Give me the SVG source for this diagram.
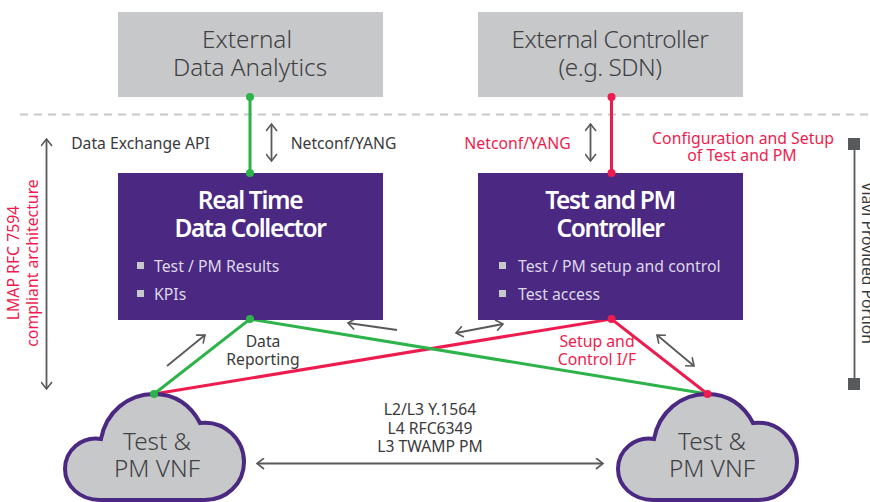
<svg xmlns="http://www.w3.org/2000/svg" width="870" height="502" viewBox="0 0 870 502">
<style>
text{font-family:"Noto Sans","Open Sans","Liberation Sans",sans-serif;text-anchor:middle}
.big{font-size:24.3px;fill:#404143;font-weight:300}
.lbl{font-size:15.7px;fill:#3a3a3c}
.red{font-size:15.8px;fill:#ee1c4e}
.ttl{font-size:24.5px;fill:#fff;font-weight:600;letter-spacing:-1.35px}
.itm{font-size:15.8px;fill:#dcd8e8;text-anchor:start}
.ar{fill:none;stroke:#58595b;stroke-width:1.8}
.g{fill:none;stroke:#2db34a;stroke-width:3}
.r{fill:none;stroke:#ee1c4e;stroke-width:3}
.gd{fill:#2db34a}.rd{fill:#ee1c4e}
.box{fill:#c7c8ca}.pur{fill:#4b2882}
.sq{fill:#c7c8ca}
.cl{fill:#c7c8ca;stroke:#4b2882;stroke-width:4}
</style>
<defs>
<marker id="a" viewBox="-8 -6 10 12" refX="0" refY="0" markerWidth="10" markerHeight="12" markerUnits="userSpaceOnUse" orient="auto-start-reverse"><path d="M-7-5.500L0 0L-7 5.500" fill="none" stroke="#58595b" stroke-width="1.6"/></marker>
<path id="cloud" d="M101 439C106 412 128 394 154 394C175 394 191 405 200 423C225 420 244 440 244 462C244 484 226 500 205 500L100 500C80 500 65 486 65 469C65 450 82 436 101 439Z"/>
</defs>
<line x1="20" y1="114.500" x2="870" y2="114.500" stroke="#c7c8ca" stroke-width="2" stroke-dasharray="8 6"/>
<g id="connectors">
<path class="g" d="M250 97V173"/>
<path class="r" d="M611.500 97V173"/>
<path class="r" d="M154 394L611.500 319L707.500 394"/>
<path class="g" d="M154 394L250 319L707.500 394"/>
<path class="ar" marker-start="url(#a)" marker-end="url(#a)" d="M271.500 124V161"/>
<path class="ar" marker-start="url(#a)" marker-end="url(#a)" d="M590.500 124V161"/>
<path class="ar" marker-start="url(#a)" marker-end="url(#a)" d="M46.500 139V389"/>
<path class="ar" marker-end="url(#a)" d="M167 366L205 335"/>
<path class="ar" marker-end="url(#a)" d="M397 330L348 323"/>
<path class="ar" marker-start="url(#a)" marker-end="url(#a)" d="M456 333L503 324"/>
<path class="ar" marker-start="url(#a)" marker-end="url(#a)" d="M657 335L694 366"/>
<path class="ar" marker-start="url(#a)" marker-end="url(#a)" d="M257 463.500H603"/>
<path class="ar" d="M854.500 144V384"/>
<rect x="848" y="138" width="12" height="12" fill="#58595b"/>
<rect x="848" y="378" width="12" height="12" fill="#58595b"/>
</g>
<g id="ext-analytics"><rect class="box" x="118" y="12" width="265" height="85"/><text class="big" x="247" y="48">External</text><text class="big" x="250" y="76">Data Analytics</text></g>
<g id="ext-controller"><rect class="box" x="478" y="12" width="265" height="85"/><text class="big" x="610" y="48" letter-spacing="-0.5">External Controller</text><text class="big" x="610" y="76" letter-spacing="-0.5">(e.g. SDN)</text></g>
<g id="collector"><rect class="pur" x="118" y="173" width="265" height="147"/>
<text class="ttl" x="250" y="209">Real Time</text><text class="ttl" x="250" y="237">Data Collector</text>
<rect class="sq" x="137" y="262" width="7" height="7"/><text class="itm" x="154" y="272">Test / PM Results</text>
<rect class="sq" x="137" y="290" width="7" height="7"/><text class="itm" x="154" y="300">KPIs</text></g>
<g id="controller"><rect class="pur" x="478" y="173" width="265" height="147"/>
<text class="ttl" x="610" y="209">Test and PM</text><text class="ttl" x="610" y="237">Controller</text>
<rect class="sq" x="499" y="262" width="7" height="7"/><text class="itm" x="518" y="272">Test / PM setup and control</text>
<rect class="sq" x="499" y="290" width="7" height="7"/><text class="itm" x="518" y="300">Test access</text></g>
<g id="vnf-left"><use href="#cloud" class="cl"/><text class="big" x="157" y="450">Test &amp;</text><text class="big" x="157" y="477">PM VNF</text></g>
<g id="vnf-right"><use href="#cloud" class="cl" x="553"/><text class="big" x="712" y="450">Test &amp;</text><text class="big" x="712" y="477">PM VNF</text></g>
<g id="dots">
<circle class="gd" cx="250" cy="97" r="4"/><circle class="gd" cx="250" cy="173" r="4"/>
<circle class="rd" cx="611.500" cy="97" r="4"/><circle class="rd" cx="611.500" cy="173" r="4"/>
<circle class="gd" cx="250" cy="319" r="4"/><circle class="rd" cx="611.500" cy="319" r="4"/>
<circle class="gd" cx="154" cy="394" r="4"/><circle class="rd" cx="707.500" cy="394" r="4"/>
</g>
<g id="labels">
<text class="lbl" x="140.500" y="149">Data Exchange API</text>
<text class="lbl" x="343.500" y="149">Netconf/YANG</text>
<text class="red" x="517.500" y="149">Netconf/YANG</text>
<text class="red" x="743" y="144">Configuration and Setup</text>
<text class="red" x="742" y="161">of Test and PM</text>
<text class="lbl" x="263" y="347">Data</text>
<text class="lbl" x="263" y="365">Reporting</text>
<text class="red" x="597" y="347">Setup and</text>
<text class="red" x="597" y="365">Control I/F</text>
<text class="lbl" x="430" y="415">L2/L3 Y.1564</text>
<text class="lbl" x="430" y="434">L4 RFC6349</text>
<text class="lbl" x="430" y="452">L3 TWAMP PM</text>
<text class="red" transform="translate(19 263) rotate(-90)">LMAP RFC 7594</text>
<text class="red" transform="translate(38 263) rotate(-90)">compliant architecture</text>
<text class="lbl" transform="translate(862 263) rotate(90)">Viavi Provided Portion</text>
</g>
</svg>
